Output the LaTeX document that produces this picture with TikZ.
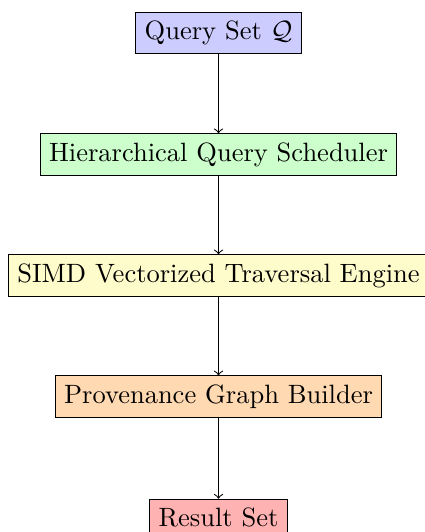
\documentclass[tikz,border=0pt]{standalone}
\usetikzlibrary{positioning}
\begin{document}
\begin{tikzpicture}[x=0.3774pt,y=-0.3774pt,
  stage/.style={draw, rectangle, inner sep=0.333em},
  flow/.style={->}]
\useasboundingbox (0,0) rectangle (425,532);
\node[stage, fill=blue!20]   (q)    at (218.5,33)    {Query Set $\mathcal{Q}$};
\node[stage, fill=green!20]  (sch)  at (218.5,154.7) {Hierarchical Query Scheduler};
\node[stage, fill=yellow!20] (simd) at (218.5,275.8) {SIMD Vectorized Traversal Engine};
\node[stage, fill=orange!30] (prov) at (218.5,396.7) {Provenance Graph Builder};
\node[stage, fill=red!30]    (res)  at (218.5,517.7) {Result Set};
\draw[flow] (q) -- (sch);
\draw[flow] (sch) -- (simd);
\draw[flow] (simd) -- (prov);
\draw[flow] (prov) -- (res);
\end{tikzpicture}
\end{document}
